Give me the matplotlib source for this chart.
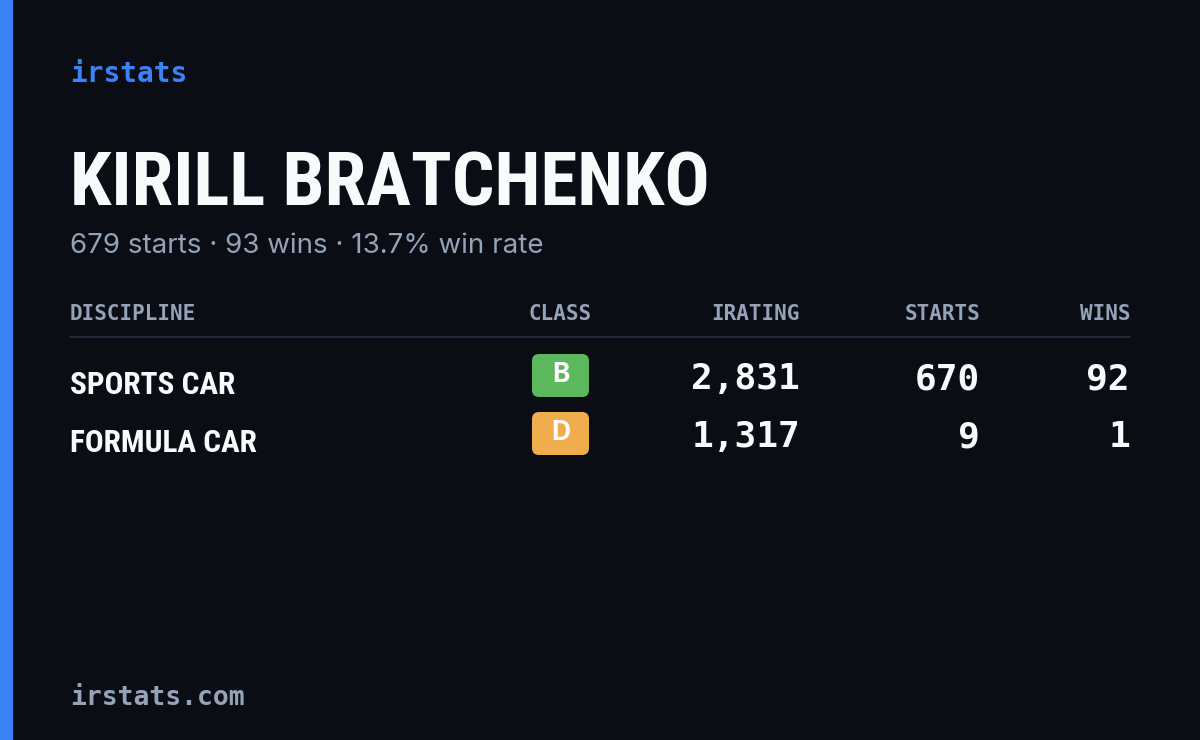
import matplotlib
matplotlib.use("Agg")
import matplotlib.pyplot as plt
from matplotlib.patches import FancyBboxPatch, Rectangle
from matplotlib import font_manager as fm

name = "KIRILL BRATCHENKO"
subtitle = "679 starts · 93 wins · 13.7% win rate"
headers = ["DISCIPLINE", "CLASS", "IRATING", "STARTS", "WINS"]
disciplines = ["SPORTS CAR", "FORMULA CAR"]
classes = ["B", "D"]
iratings = [2831, 1317]
starts = [670, 9]
wins = [92, 1]
class_colors = {"B": "#5cb85c", "D": "#f0ad4e"}

avail = {f.name for f in fm.fontManager.ttflist}
cond = [f for f in ["Roboto Condensed", "Liberation Sans Narrow", "DejaVu Sans Condensed", "DejaVu Sans"] if f in avail]
mono = "DejaVu Sans Mono"
sans = ["Inter", "Noto Sans", "DejaVu Sans"]

fig = plt.figure(figsize=(12, 7.4), dpi=100)
fig.patch.set_facecolor("#0a0d14")
ax = fig.add_axes([0, 0, 1, 1])
ax.set_xlim(0, 1200); ax.set_ylim(740, 0); ax.axis("off")
ax.add_patch(Rectangle((0, 0), 12, 740, color="#3b82f6"))

ax.text(70, 74, "irstats", family=mono, fontsize=20, weight="bold", color="#3b82f6", va="center")
ax.text(70, 185, name, family=cond, fontsize=54, weight="bold", color="#f8fafc", va="center")
ax.text(70, 246, subtitle, family=sans, fontsize=20, color="#94a3b8", va="center")

hx = [70, 560, 800, 980, 1130]
ha = ["left", "center", "right", "right", "right"]
for h, x, a in zip(headers, hx, ha):
    ax.text(x, 314, h, family=mono, fontsize=15, weight="bold", color="#94a3b8", ha=a, va="center")
ax.plot([70, 1130], [337, 337], color="#1e293b", lw=1.5)

for i, (d, c, r, s, w) in enumerate(zip(disciplines, classes, iratings, starts, wins)):
    y = 377 + 58 * i
    ax.text(70, y + 8, d, family=cond, fontsize=22.5, weight="bold", color="#f8fafc", va="center")
    ax.add_patch(FancyBboxPatch((532, y - 23), 57, 43, boxstyle="round,pad=0,rounding_size=7",
                                color=class_colors[c], lw=0))
    ax.text(560.5, y - 2, c, family=sans, fontsize=19, weight="bold", color="white", ha="center", va="center")
    for val, x in ((r, 800), (s, 980), (w, 1130)):
        ax.text(x, y + 2, f"{val:,}", family=mono, fontsize=26, weight="bold", color="#f8fafc", ha="right", va="center")

ax.text(70, 698, "irstats.com", family=mono, fontsize=19, weight="bold", color="#94a3b8", va="center")
fig.savefig("out.png", dpi=100, facecolor=fig.get_facecolor())
